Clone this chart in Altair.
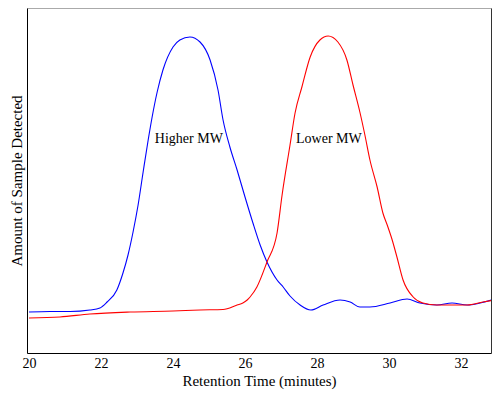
import altair as alt
import pandas as pd

# Retention time (minutes) and detector signal (arbitrary units)
blue_time = [20.00, 20.58, 21.14, 21.69, 21.97, 22.17, 22.44, 22.61, 22.75, 22.89,
             23.03, 23.17, 23.31, 23.42, 23.56, 23.72, 24.00, 24.19, 24.47, 24.75,
             25.03, 25.25, 25.39, 25.58, 25.78, 26.00, 26.22, 26.42, 26.61, 26.89,
             27.06, 27.25, 27.53, 27.83, 28.17, 28.64, 28.92, 29.19, 29.47, 30.03,
             30.50, 30.86, 31.33, 31.75, 32.17, 32.53, 32.94]
blue_signal = [41, 41.5, 41.5, 43, 45, 51, 63, 80, 98, 121,
               148, 181, 213, 236, 261, 283, 306, 313, 316, 311,
               293, 263, 233, 206, 183, 156, 130, 108, 91, 73,
               66, 57, 48, 43, 48, 53, 51, 46, 46, 50,
               54, 50, 48, 50, 48, 50, 54]

red_time = [20.00, 20.86, 21.69, 22.81, 24.00, 24.75, 25.39, 25.78, 25.94, 26.06,
            26.14, 26.33, 26.61, 26.89, 27.03, 27.25, 27.39, 27.58, 27.81, 28.08,
            28.31, 28.58, 28.83, 29.00, 29.19, 29.33, 29.47, 29.67, 29.83, 29.95,
            30.08, 30.22, 30.39, 30.67, 30.94, 31.33, 32.17, 32.61, 32.94]
red_signal = [35, 36, 39, 41, 42, 43, 43.5, 48, 50, 53,
              56, 66, 91, 120, 158, 208, 240, 266, 296, 313,
              317, 311, 293, 268, 241, 218, 193, 166, 140, 128,
              114, 96, 73, 56, 50, 48, 48, 51, 53]

series_names = ["Higher MW", "Lower MW"]
series_colors = ["#0000ff", "#ff0000"]

label_text = ["Higher MW", "Lower MW"]
label_time = [24.44, 28.33]
label_signal = [214, 214]

x_ticks = [20, 22, 24, 26, 28, 30, 32]

lines_df = pd.concat([
    pd.DataFrame({"time": blue_time, "signal": blue_signal, "series": series_names[0]}),
    pd.DataFrame({"time": red_time, "signal": red_signal, "series": series_names[1]}),
])
labels_df = pd.DataFrame({"time": label_time, "signal": label_signal, "label": label_text})

FONT = "Liberation Serif"

PLOT_W = 464
x_scale = alt.Scale(domain=[19.944, 19.944 + PLOT_W / 36.0], nice=False, zero=False)
y_scale = alt.Scale(domain=[0, 345], nice=False, zero=False)

lines = alt.Chart(lines_df).mark_line(strokeWidth=1.1, interpolate="monotone", clip=True).encode(
    x=alt.X("time:Q", scale=x_scale,
            axis=alt.Axis(title="Retention Time (minutes)", values=x_ticks, ticks=False,
                          grid=False, domainColor="#000000", domainWidth=1,
                          labelFont=FONT, labelFontSize=14, labelColor="#000000",
                          labelPadding=3, titleFont=FONT, titleFontSize=15,
                          titleFontWeight="normal", titleColor="#000000",
                          titlePadding=3, labelFlush=False)),
    y=alt.Y("signal:Q", scale=y_scale,
            axis=alt.Axis(title="Amount of Sample Detected", labels=False, ticks=False,
                          grid=False, domainColor="#000000", domainWidth=1,
                          titleFont=FONT, titleFontSize=15, titleFontWeight="normal",
                          titleColor="#000000", titlePadding=3)),
    color=alt.Color("series:N", scale=alt.Scale(domain=series_names, range=series_colors),
                    legend=None),
    detail="series:N",
)

texts = alt.Chart(labels_df).mark_text(font=FONT, fontSize=14, color="#000000",
                                       baseline="middle", align="center").encode(
    x=alt.X("time:Q", scale=x_scale,
            axis=alt.Axis(orient="top", labels=False, ticks=False, grid=False,
                          title=None, domainColor="#aaaaaa", domainWidth=1)),
    y=alt.Y("signal:Q", scale=y_scale,
            axis=alt.Axis(orient="right", labels=False, ticks=False, grid=False,
                          title=None, domainColor="#333333", domainWidth=1)),
    text="label:N",
)

chart = alt.layer(lines, texts).resolve_axis(x="independent", y="independent").properties(
    width=PLOT_W,
    height=345,
    autosize=alt.AutoSizeParams(type="none"),
    padding={"left": 19, "top": 0, "right": 1, "bottom": 37},
).configure_view(stroke=None).configure(background="white")

chart.save("out.html", embed_options={"renderer": "svg", "actions": False})
